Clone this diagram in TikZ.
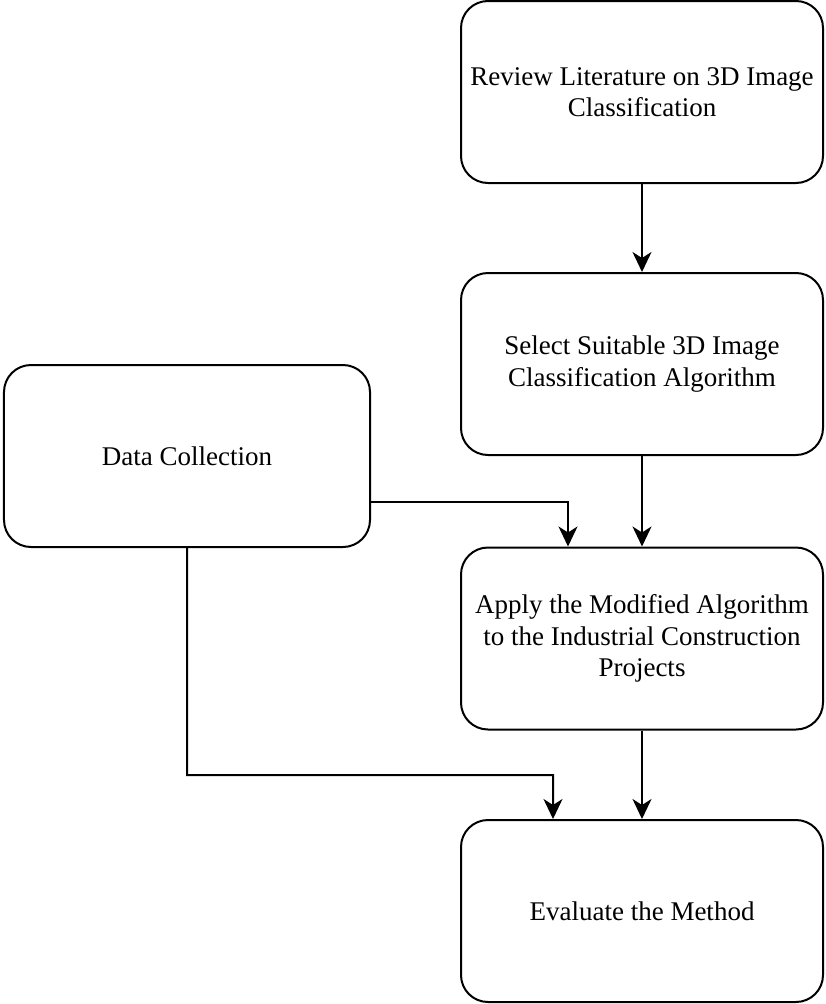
\documentclass[tikz,border=0pt]{standalone}
\usepackage{fontspec}
\setmainfont{Liberation Serif}
\usetikzlibrary{arrows.meta}
\begin{document}
\begin{tikzpicture}[x=1bp,y=-1bp,
  stepbox/.style={draw=black,line width=2bp,rounded corners=27bp,
    minimum width=362bp,minimum height=182bp,inner sep=0pt,
    align=center,
    font=\fontsize{27.1}{31.5}\selectfont},
  flow/.style={draw=black,line width=2bp,
    -{Stealth[length=20bp,width=19bp,inset=6bp]}}]
  \useasboundingbox (0,0) rectangle (826,1004);
  \node[stepbox] (review) at (642,92) {Review Literature on 3D Image\\Classification};
  \node[stepbox] (select) at (642,364) {Select Suitable 3D Image\\Classification Algorithm};
  \node[stepbox] (apply) at (642,638.5) {Apply the Modified Algorithm\\to the Industrial Construction\\Projects};
  \node[stepbox] (eval) at (642,911) {Evaluate the Method};
  \node[stepbox,minimum width=366bp] (data) at (187,456) {Data Collection};
  \draw[flow] (review) -- (select);
  \draw[flow] (select) -- (apply);
  \draw[flow] (apply) -- (eval);
  \draw[flow] (data.east |- 0,502) -| ([xshift=-74bp]apply.north);
  \draw[flow] (data.south) |- (553,775) -- ([xshift=-89bp]eval.north);
\end{tikzpicture}
\end{document}
